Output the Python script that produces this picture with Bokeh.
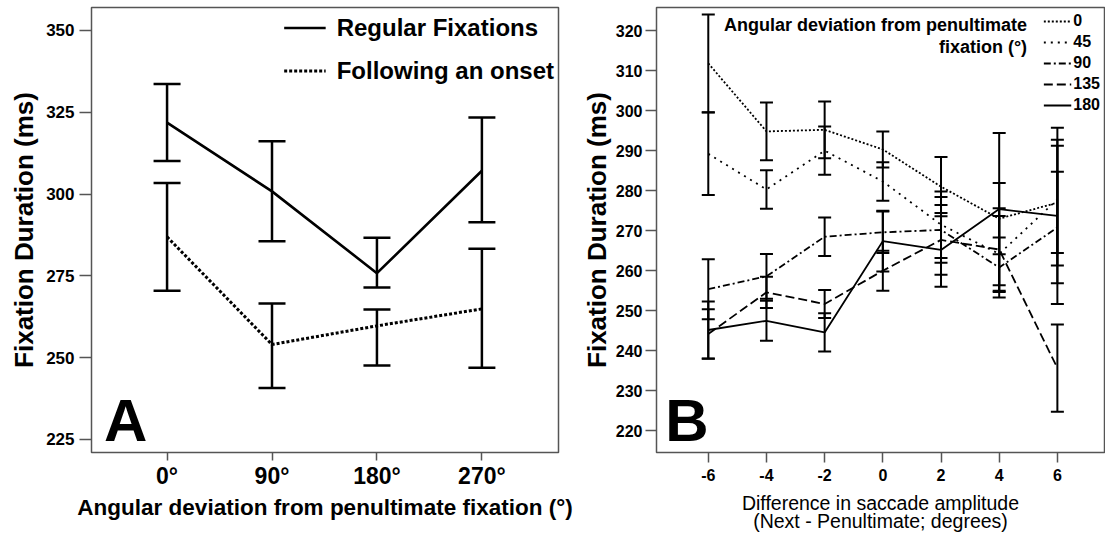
from bokeh.plotting import figure
from bokeh.layouts import row
from bokeh.models import (ColumnDataSource, Whisker, TeeHead, FixedTicker, Legend,
                          LegendItem, Label, Range1d)
from bokeh.embed import file_html
from bokeh.resources import INLINE

FONT = "Liberation Sans"

# ---------------- Panel A data ----------------
angles = ["0°", "90°", "180°", "270°"]
regular_mean = [321.8, 300.8, 275.8, 307.1]
regular_upper = [333.6, 316.1, 286.6, 323.4]
regular_lower = [310.1, 285.6, 271.4, 291.4]
onset_mean = [286.9, 254.0, 259.7, 264.9]
onset_upper = [303.4, 266.5, 264.7, 283.3]
onset_lower = [270.4, 240.7, 247.6, 246.9]
a_yticks = [225, 250, 275, 300, 325, 350]

# ---------------- Panel B data ----------------
amp_diff = [-6, -4, -2, 0, 2, 4, 6]
amp_labels = ["-6", "-4", "-2", "0", "2", "4", "6"]
dev_labels = ["0", "45", "90", "135", "180"]
mean_0 = [311.8, 294.8, 295.2, 290.3, 281.0, 273.0, 277.0]
ci_0 = [12.2, 7.2, 7.1, 4.5, 7.4, 8.9, 15.7]
mean_45 = [289.2, 280.3, 290.0, 282.3, 271.5, 264.2, 277.8]
ci_45 = [10.3, 4.8, 6.0, 4.8, 8.3, 9.5, 13.4]
mean_90 = [255.4, 258.6, 268.5, 269.6, 270.2, 260.8, 270.8]
ci_90 = [7.5, 5.6, 4.8, 5.2, 8.2, 7.5, 13.9]
mean_135 = [244.2, 254.6, 251.7, 260.0, 267.7, 265.3, 235.7]
ci_135 = [6.2, 3.9, 3.5, 5.0, 8.7, 10.3, 10.9]
mean_180 = [245.2, 247.5, 244.6, 267.4, 265.2, 275.4, 273.7]
ci_180 = [7.1, 5.0, 4.8, 7.6, 9.2, 19.0, 22.0]
b_yticks = [220, 230, 240, 250, 260, 270, 280, 290, 300, 310, 320]

b_means = [mean_0, mean_45, mean_90, mean_135, mean_180]
b_cis = [ci_0, ci_45, ci_90, ci_135, ci_180]
b_dashes = ["2 2", "2 5", "7 3 2 3", "9 4", "solid"]

AXIS_GRAY = "#555555"


def base_style(p):
    p.xgrid.visible = False
    p.ygrid.visible = False
    p.outline_line_color = AXIS_GRAY
    p.outline_line_width = 1.5
    p.background_fill_color = "white"
    p.border_fill_color = "white"
    for ax in (p.xaxis[0], p.yaxis[0]):
        ax.axis_line_color = None
        ax.major_tick_line_color = AXIS_GRAY
        ax.major_tick_line_width = 1.5
        ax.major_tick_in = 0
        ax.minor_tick_line_color = None
        ax.major_label_text_color = "black"
        ax.major_label_text_font = FONT
        ax.major_label_text_font_style = "bold"
        ax.axis_label_text_font = FONT
        ax.axis_label_text_color = "black"


# ================= Panel A =================
xa = list(range(len(angles)))
pA = figure(width=578, height=540, x_range=Range1d(-0.72, 3.73), y_range=Range1d(221.0, 357.0),
            output_backend="svg", toolbar_location=None,
            min_border_left=91, min_border_right=20, min_border_top=7, min_border_bottom=88)
base_style(pA)

pA.xaxis.ticker = FixedTicker(ticks=xa)
pA.xaxis.major_label_overrides = {i: a for i, a in zip(xa, angles)}
pA.xaxis.major_label_text_font_size = "23px"
pA.xaxis.major_tick_out = 8
pA.xaxis.major_label_standoff = 2
pA.xaxis.axis_label = "Angular deviation from penultimate fixation (°)"
pA.xaxis.axis_label_text_font_size = "22.5px"
pA.xaxis.axis_label_text_font_style = "bold"
pA.xaxis.axis_label_standoff = 3

pA.yaxis.ticker = FixedTicker(ticks=a_yticks)
pA.yaxis.major_label_text_font_size = "17px"
pA.yaxis.major_tick_out = 12
pA.yaxis.major_label_standoff = 5
pA.yaxis.axis_label = "Fixation Duration (ms)"
pA.yaxis.axis_label_text_font_size = "26px"
pA.yaxis.axis_label_text_font_style = "bold"
pA.yaxis.axis_label_standoff = 4

srcA_reg = ColumnDataSource(dict(x=xa, mean=regular_mean, upper=regular_upper, lower=regular_lower))
srcA_ons = ColumnDataSource(dict(x=xa, mean=onset_mean, upper=onset_upper, lower=onset_lower))

for src in (srcA_reg, srcA_ons):
    w = Whisker(source=src, base="x", upper="upper", lower="lower",
                line_color="black", line_width=2.5,
                upper_head=TeeHead(size=27, line_width=2.5, line_color="black"),
                lower_head=TeeHead(size=27, line_width=2.5, line_color="black"))
    pA.add_layout(w)

r_reg = pA.line("x", "mean", source=srcA_reg, line_color="black", line_width=2.6)
r_ons = pA.line("x", "mean", source=srcA_ons, line_color="black", line_width=3, line_dash="3 2")

legA = Legend(items=[LegendItem(label="Regular Fixations", renderers=[r_reg]),
                     LegendItem(label="Following an onset", renderers=[r_ons])],
              location="top_right", margin=4, padding=0, spacing=10,
              glyph_width=42, glyph_height=33, label_standoff=11,
              label_text_font=FONT, label_text_font_size="24px", label_text_font_style="bold",
              label_text_color="black", border_line_color=None, background_fill_alpha=0)
pA.add_layout(legA)

pA.add_layout(Label(x=-0.6, y=230.9, text="A", text_font=FONT, text_font_size="60px",
                    text_font_style="bold", text_baseline="middle", text_color="black"))

# ================= Panel B =================
pB = figure(width=527, height=540, x_range=Range1d(-7.78, 7.62), y_range=Range1d(214.6, 325.75),
            output_backend="svg", toolbar_location=None,
            min_border_left=76, min_border_right=1, min_border_top=7, min_border_bottom=88)
base_style(pB)

pB.xaxis.ticker = FixedTicker(ticks=amp_diff)
pB.xaxis.major_label_overrides = {v: s for v, s in zip(amp_diff, amp_labels)}
pB.xaxis.major_label_text_font_size = "16px"
pB.xaxis.major_tick_out = 10
pB.xaxis.major_label_standoff = 6
pB.xaxis.axis_label = "Difference in saccade amplitude\n(Next - Penultimate; degrees)"
pB.xaxis.axis_label_text_font_size = "19.5px"
pB.xaxis.axis_label_text_font_style = "normal"
pB.xaxis.axis_label_text_line_height = 0.85
pB.xaxis.axis_label_standoff = 8

pB.yaxis.ticker = FixedTicker(ticks=b_yticks)
pB.yaxis.major_label_text_font_size = "16px"
pB.yaxis.major_tick_out = 11
pB.yaxis.major_label_standoff = 3
pB.yaxis.axis_label = "Fixation Duration (ms)"
pB.yaxis.axis_label_text_font_size = "26px"
pB.yaxis.axis_label_text_font_style = "bold"
pB.yaxis.axis_label_standoff = 1

b_items = []
for lab, m, c, dash in zip(dev_labels, b_means, b_cis, b_dashes):
    src = ColumnDataSource(dict(x=amp_diff, mean=m,
                                upper=[v + e for v, e in zip(m, c)],
                                lower=[v - e for v, e in zip(m, c)]))
    w = Whisker(source=src, base="x", upper="upper", lower="lower",
                line_color="black", line_width=2,
                upper_head=TeeHead(size=13, line_width=2, line_color="black"),
                lower_head=TeeHead(size=13, line_width=2, line_color="black"))
    pB.add_layout(w)
    r = pB.line("x", "mean", source=src, line_color="black", line_width=1.8, line_dash=dash)
    b_items.append(LegendItem(label=lab, renderers=[r]))

legB = Legend(items=b_items, location="top_right", margin=4, padding=0, spacing=1,
              glyph_width=28, glyph_height=20, label_standoff=2,
              label_text_font=FONT, label_text_font_size="16px", label_text_font_style="bold",
              label_text_color="black", border_line_color=None, background_fill_alpha=0)
pB.add_layout(legB)

pB.add_layout(Label(x=4.96, y=321.4, text="Angular deviation from penultimate", text_align="right",
                    text_baseline="middle", text_font=FONT, text_font_size="18px",
                    text_font_style="bold", text_color="black"))
pB.add_layout(Label(x=4.96, y=315.8, text="fixation (°)", text_align="right",
                    text_baseline="middle", text_font=FONT, text_font_size="18px",
                    text_font_style="bold", text_color="black"))

pB.add_layout(Label(x=-7.48, y=222.5, text="B", text_font=FONT, text_font_size="60px",
                    text_font_style="bold", text_baseline="middle", text_color="black"))

layout = row(pA, pB)
open("out.html", "w").write(file_html(layout, INLINE))
